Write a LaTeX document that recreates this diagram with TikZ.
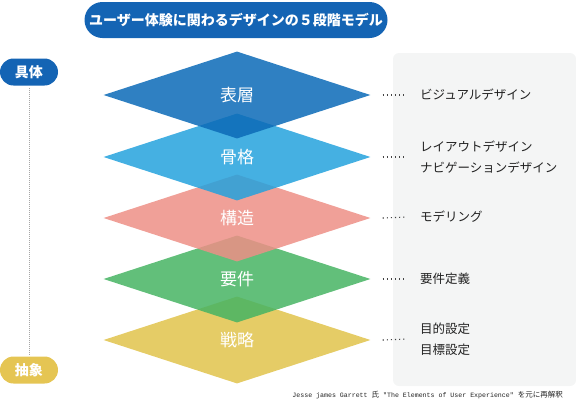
\documentclass[tikz,border=0pt]{standalone}
\usepackage{fontspec}
\setmainfont{Noto Sans CJK JP}
\newfontfamily\srcmono{Liberation Mono}
\usetikzlibrary{shapes.geometric}

\definecolor{ttlblue}{HTML}{1464B4}
\definecolor{absyel}{HTML}{E5C553}
\definecolor{surfc}{HTML}{0B6AB7}
\definecolor{skelc}{HTML}{24A2DD}
\definecolor{strcc}{HTML}{ED8F86}
\definecolor{scopc}{HTML}{46B463}
\definecolor{stratc}{HTML}{E1C34B}
\definecolor{panelc}{HTML}{F4F5F5}
\definecolor{txtc}{HTML}{222222}
\definecolor{dotc}{HTML}{444444}

\begin{document}
\begin{tikzpicture}[x=1pt,y=-1pt]
\tikzset{
  lyr/.style={shape=diamond, inner sep=0, minimum width=267, minimum height=87,
    fill opacity=0.85, text opacity=1, text=white, font=\fontsize{17}{17}\selectfont},
  lyrA/.prefix style={lyr,fill=surfc},
  lyrB/.prefix style={lyr,fill=skelc},
  lyrC/.prefix style={lyr,fill=strcc},
  lyrD/.prefix style={lyr,fill=scopc},
  lyrE/.prefix style={lyr,fill=stratc},
  pill/.style={rounded corners=13.5, minimum width=58, minimum height=27, inner sep=0,
    text=white, font=\fontsize{14}{14}\selectfont\bfseries},
  lbl/.style={anchor=west, inner sep=0, align=left, text=txtc,
    font=\fontsize{12.5}{21}\selectfont},
  leader/.style={draw=dotc, line width=1.1, dash pattern=on 1.1 off 3},
}
\useasboundingbox (0,0) rectangle (576,405);

%% panel behind the notes
\fill[panelc, rounded corners=6] (393,53) rectangle (576,386);

%% title
\node[fill=ttlblue, rounded corners=18, minimum width=303, minimum height=36, inner sep=0,
  text=white, font=\fontsize{14}{14}\selectfont\bfseries] (ttl) at (236,20)
  {ユーザー体験に関わるデザインの５段階モデル};

%% concrete / abstract
\node[pill, fill=ttlblue] (gu) at (29,72) {具体};
\node[pill, fill=absyel] (chu) at (29,370) {抽象};
\draw[draw=gray!70, line width=0.8, dash pattern=on 0.8 off 1.2, shorten <=2, shorten >=2]
  (gu.south) -- (chu.north);

%% layers, bottom first
\node[lyrE] (d5) at (237,340) {戦略};
\node[lyrD] (d4) at (237,279) {要件};
\node[lyrC] (d3) at (237,218) {構造};
\node[lyrB] (d2) at (237,157) {骨格};
\node[lyrA] (d1) at (237,95) {表層};

%% notes
\node[lbl] (t1) at (420,95) {ビジュアルデザイン};
\node[lbl] (t2) at (420,157) {レイアウトデザイン\\ナビゲーションデザイン};
\node[lbl] (t3) at (420,217) {モデリング};
\node[lbl] (t4) at (420,279) {要件定義};
\node[lbl] (t5) at (420,339) {目的設定\\目標設定};

\draw[leader] ([xshift=12]d1.east) -- ([xshift=-13]t1.west);
\draw[leader] ([xshift=12]d2.east) -- ([xshift=-13]t2.west);
\draw[leader] ([xshift=12]d3.east) -- ([xshift=-13]t3.west);
\draw[leader] ([xshift=12]d4.east) -- ([xshift=-13]t4.west);
\draw[leader] ([xshift=12]d5.east) -- ([xshift=-13]t5.west);

%% source
\node[anchor=east, inner sep=0, text=txtc, font=\fontsize{7.5}{7.5}\selectfont] (src) at (563,395)
  {{\srcmono\fontsize{6.6}{7}\selectfont Jesse james Garrett\ }氏\hspace{4pt}{\srcmono\fontsize{6.6}{7}\selectfont "The Elements of User Experience"\ }を元に再解釈};
\end{tikzpicture}
\end{document}
